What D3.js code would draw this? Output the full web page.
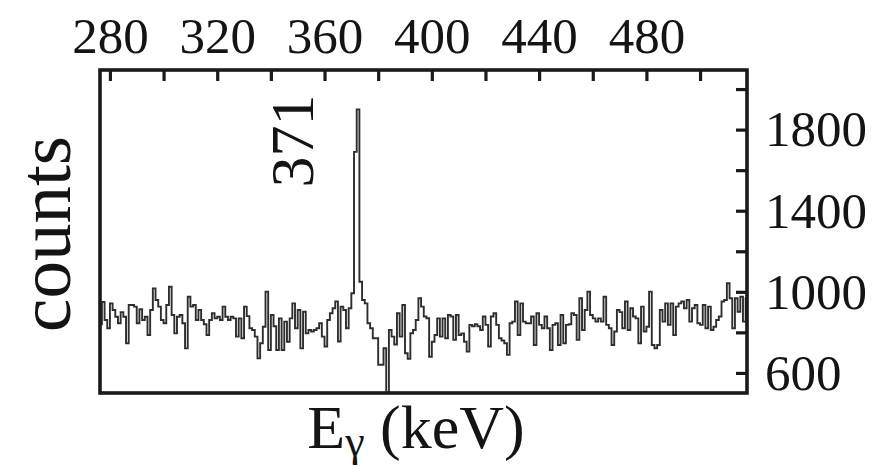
<!DOCTYPE html>
<html>
<head>
<meta charset="utf-8">
<script src="https://cdn.jsdelivr.net/npm/d3@7"></script>
<style>
  html, body { margin: 0; padding: 0; background: #fff; }
  svg { display: block; }
  svg text { font-family: "Liberation Serif", Tinos, "Times New Roman", Times, "Nimbus Roman", "DejaVu Serif", serif; fill: #141414; }
</style>
</head>
<body>
<svg id="chart" width="879" height="466"></svg>
<script>
// Gamma-ray spectrum, 1 keV channels starting at 276 keV
const channelStart = 276;
const channelWidth = 1;
const counts = [
  840, 950, 861, 820, 943, 910, 877, 845, 900, 877,
  746, 935, 935, 927, 845, 914, 861, 877, 787, 910,
  1017, 960, 927, 861, 845, 935, 1025, 886, 795, 877,
  886, 845, 721, 976, 927, 935, 861, 910, 861, 840,
  787, 861, 894, 869, 877, 861, 927, 877, 861, 877,
  869, 779, 869, 771, 927, 880, 820, 812, 779, 672,
  746, 828, 1001, 713, 886, 830, 713, 869, 713, 853,
  754, 869, 943, 820, 910, 721, 902, 795, 812, 804,
  812, 820, 845, 779, 730, 861, 894, 919, 952, 755,
  927, 910, 820, 919, 993, 1690, 1900, 1050, 960, 943,
  845, 820, 771, 771, 640, 640, 722, 500, 812, 779,
  740, 894, 779, 935, 697, 670, 796, 812, 861, 968,
  927, 878, 870, 680, 754, 787, 869, 779, 869, 771,
  886, 878, 763, 886, 787, 795, 754, 705, 837, 830,
  840, 830, 812, 878, 837, 730, 878, 894, 837, 771,
  760, 746, 689, 845, 853, 952, 787, 943, 853, 845,
  845, 878, 738, 894, 837, 820, 878, 820, 713, 837,
  845, 738, 886, 746, 837, 840, 894, 886, 763, 968,
  812, 910, 1001, 886, 869, 853, 869, 853, 976, 837,
  820, 738, 804, 910, 900, 820, 952, 812, 919, 878,
  869, 746, 927, 804, 828, 1001, 738, 722, 738, 910,
  853, 943, 837, 943, 787, 927, 943, 952, 919, 960,
  853, 919, 935, 845, 837, 935, 820, 927, 812, 828,
  861, 878, 952, 960, 1042, 968, 820, 968, 902, 976,
  853, 968
];

// Axis ticks and labels
const energyTicks = [280, 300, 320, 340, 360, 380, 400, 420, 440, 460, 480, 500];
const energyLabels = [280, 320, 360, 400, 440, 480];
const countTicks = [600, 800, 1000, 1200, 1400, 1600, 1800, 2000];
const countLabels = [600, 1000, 1400, 1800];

// Annotated peak
const peakLabel = "371";

const energyDomain = [276.3, 517.5];
const countDomain = [501, 2094];

const box = { left: 100, right: 747, top: 70, bottom: 393 };
const serif = '"Liberation Serif", Tinos, "Times New Roman", Times, "Nimbus Roman", "DejaVu Serif", serif';

const svg = d3.select("#chart");

const x = d3.scaleLinear().domain(energyDomain).range([box.left, box.right]);
const y = d3.scaleLinear().domain(countDomain).range([box.bottom, box.top]);

// Step histogram points: each channel's left edge, plus the closing edge
const pts = counts.map((c, i) => [channelStart + i * channelWidth, c]);
pts.push([channelStart + counts.length * channelWidth, counts[counts.length - 1]]);

svg.append("clipPath").attr("id", "plotClip")
  .append("rect")
  .attr("x", box.left).attr("y", box.top)
  .attr("width", box.right - box.left).attr("height", box.bottom - box.top);

const line = d3.line()
  .x(d => x(d[0]))
  .y(d => y(d[1]))
  .curve(d3.curveStepAfter);

svg.append("path")
  .datum(pts)
  .attr("clip-path", "url(#plotClip)")
  .attr("d", line)
  .attr("fill", "none")
  .attr("stroke", "#2e2e2e")
  .attr("stroke-width", 1.9)
  .attr("stroke-linejoin", "miter");

// Frame
svg.append("rect")
  .attr("x", box.left).attr("y", box.top)
  .attr("width", box.right - box.left).attr("height", box.bottom - box.top)
  .attr("fill", "none")
  .attr("stroke", "#1a1a1a")
  .attr("stroke-width", 3.6);

// Top energy axis, ticks pointing inward
const topAxis = svg.append("g")
  .attr("transform", `translate(0,${box.top})`)
  .call(d3.axisTop(x)
    .tickValues(energyTicks)
    .tickSize(-11)
    .tickPadding(17)
    .tickFormat(d => energyLabels.includes(d) ? String(d) : ""));

// Right count axis, ticks pointing inward
const rightAxis = svg.append("g")
  .attr("transform", `translate(${box.right},0)`)
  .call(d3.axisRight(y)
    .tickValues(countTicks)
    .tickSize(-11)
    .tickPadding(18)
    .tickFormat(d => countLabels.includes(d) ? String(d) : ""));

[topAxis, rightAxis].forEach(g => {
  g.attr("font-family", serif);
  g.select(".domain").remove();
  g.selectAll(".tick line").attr("stroke", "#1a1a1a").attr("stroke-width", 3.2);
  g.selectAll(".tick text")
    .attr("font-family", serif)
    .style("font-family", serif)
    .style("font-size", "51px")
    .attr("fill", "#141414");
});

// Peak annotation
svg.append("text")
  .attr("transform", "translate(313,141) rotate(-90)")
  .attr("text-anchor", "middle")
  .style("font-family", serif)
  .style("font-size", "62px")
  .text(peakLabel);

// Axis titles
svg.append("text")
  .attr("transform", "translate(70,234) rotate(-90)")
  .attr("text-anchor", "middle")
  .style("font-family", serif)
  .style("font-size", "75px")
  .text("counts");

const xt = svg.append("text")
  .attr("x", 416)
  .attr("y", 448)
  .attr("text-anchor", "middle")
  .style("font-family", serif)
  .style("font-size", "62px");
xt.append("tspan").text("E");
xt.append("tspan").attr("dy", 8).style("font-size", "44px").text("γ");
xt.append("tspan").attr("dy", -8).text(" (keV)");
</script>
</body>
</html>
